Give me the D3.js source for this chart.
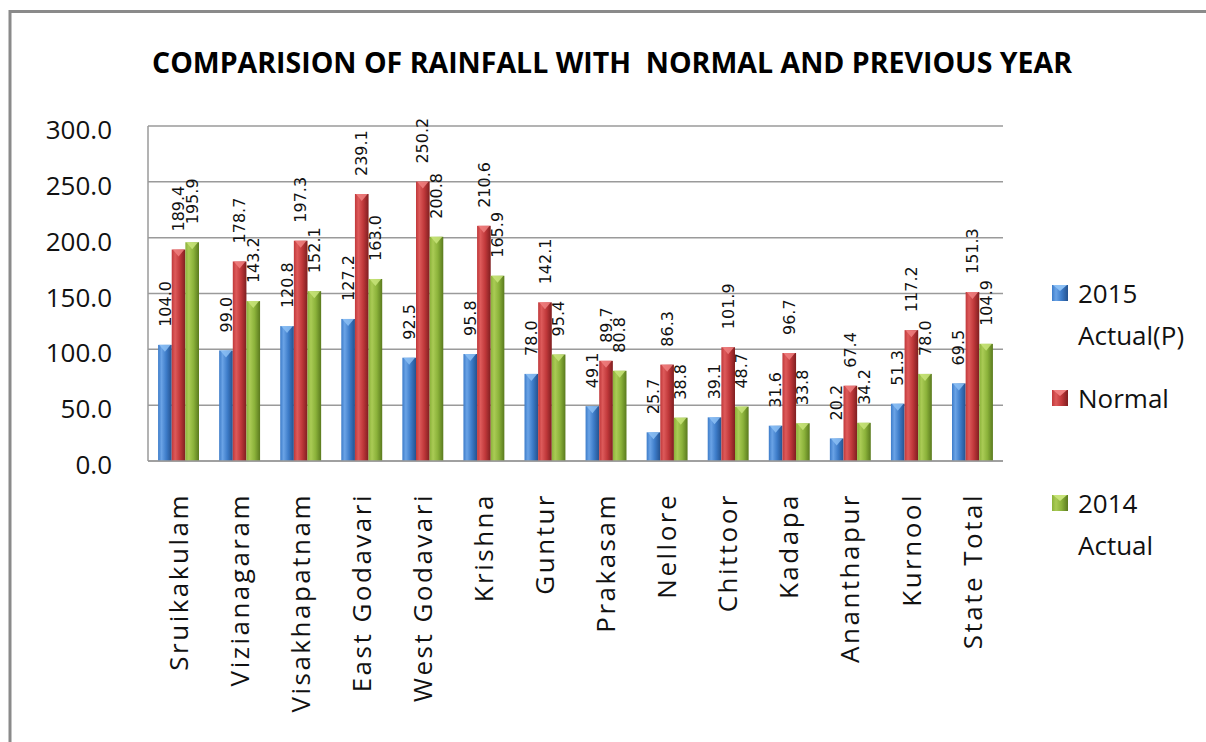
<!DOCTYPE html>
<html>
<head>
<meta charset="utf-8">
<script src="https://cdn.jsdelivr.net/npm/d3@7"></script>
<style>
  html, body { margin: 0; padding: 0; background: #fff; }
  svg { display: block; }
  text { white-space: pre; }
</style>
</head>
<body>
<svg id="chart" width="1206" height="742"></svg>
<script>
const categories = ["Sruikakulam", "Vizianagaram", "Visakhapatnam", "East Godavari", "West Godavari", "Krishna", "Guntur", "Prakasam", "Nellore", "Chittoor", "Kadapa", "Ananthapur", "Kurnool", "State Total"];
const seriesNames = ["2015 Actual(P)", "Normal", "2014 Actual"];
const actual2015 = [104.0, 99.0, 120.8, 127.2, 92.5, 95.8, 78.0, 49.1, 25.7, 39.1, 31.6, 20.2, 51.3, 69.5];
const normal = [189.4, 178.7, 197.3, 239.1, 250.2, 210.6, 142.1, 89.7, 86.3, 101.9, 96.7, 67.4, 117.2, 151.3];
const actual2014 = [195.9, 143.2, 152.1, 163.0, 200.8, 165.9, 95.4, 80.8, 38.8, 48.7, 33.8, 34.2, 78.0, 104.9];
const yTicks = [0, 50, 100, 150, 200, 250, 300];
const titleText = "COMPARISION OF RAINFALL WITH  NORMAL AND PREVIOUS YEAR";

const seriesValues = [actual2015, normal, actual2014];
const colors = [
  {light: "#6aa3e6", mid: "#3d7cc9", dark: "#24528f", tri: "#8cc0f5"},
  {light: "#dd5a5a", mid: "#c0383a", dark: "#7f1e20", tri: "#f08080"},
  {light: "#aacb55", mid: "#8bb23a", dark: "#5a7a1e", tri: "#c8e47a"}
];

const svg = d3.select("#chart");
const margin = {left: 148, right: 1003, top: 126, bottom: 461};

// frame
svg.append("path")
  .attr("d", `M10,742 L10,11.5 L1206,11.5`)
  .attr("fill", "none").attr("stroke", "#8a8a8a").attr("stroke-width", 3);

// gradients
const defs = svg.append("defs");
colors.forEach((c, i) => {
  const g = defs.append("linearGradient").attr("id", "g" + i)
    .attr("x1", "0%").attr("x2", "100%").attr("y1", "0%").attr("y2", "0%");
  g.append("stop").attr("offset", "0%").attr("stop-color", c.mid);
  g.append("stop").attr("offset", "25%").attr("stop-color", c.light);
  g.append("stop").attr("offset", "60%").attr("stop-color", c.mid);
  g.append("stop").attr("offset", "100%").attr("stop-color", c.dark);
});

const x0 = d3.scaleBand().domain(categories).range([margin.left, margin.right]).paddingInner(0.33).paddingOuter(0.165);
const x1 = d3.scaleBand().domain(seriesNames).range([0, x0.bandwidth()]);
const y = d3.scaleLinear().domain([0, 300]).range([margin.bottom, margin.top]);

// gridlines
svg.append("g").selectAll("line").data(yTicks).join("line")
  .attr("x1", margin.left).attr("x2", margin.right)
  .attr("y1", d => y(d)).attr("y2", d => y(d))
  .attr("stroke", "#9a9a9a").attr("stroke-width", 1.5);

// y axis line
svg.append("line").attr("x1", margin.left).attr("x2", margin.left)
  .attr("y1", y(300)).attr("y2", y(0)).attr("stroke", "#9a9a9a").attr("stroke-width", 1.5);

// y axis labels
const fmt = d3.format(".1f");
svg.append("g").selectAll("text").data(yTicks).join("text")
  .attr("x", 112).attr("y", d => y(d) + 3)
  .attr("text-anchor", "end").attr("dominant-baseline", "central")
  .attr("font-family", "'Open Sans'").attr("font-size", 26).attr("fill", "#111")
  .text(d => fmt(d));

// bars
const groups = svg.append("g").selectAll("g").data(categories).join("g")
  .attr("transform", d => `translate(${x0(d)},0)`);

seriesNames.forEach((s, si) => {
  const bw = x1.bandwidth();
  groups.append("rect")
    .attr("x", x1(s)).attr("width", bw)
    .attr("y", (d, i) => y(seriesValues[si][i]))
    .attr("height", (d, i) => y(0) - y(seriesValues[si][i]))
    .attr("fill", `url(#g${si})`);
  groups.append("path")
    .attr("d", (d, i) => {
      const t = y(seriesValues[si][i]);
      const xl = x1(s), xr = x1(s) + bw;
      return `M${xl + 1},${t} L${xr - 1},${t} L${xl + bw / 2},${t + 7} Z`;
    })
    .attr("fill", colors[si].tri).attr("opacity", 0.85);
  groups.append("text")
    .attr("transform", (d, i) => `translate(${x1(s) + bw / 2},${y(seriesValues[si][i]) - 18}) rotate(-90)`)
    .attr("dy", "0.35em")
    .attr("text-anchor", "start")
    .attr("font-family", "'DejaVu Sans'").attr("font-size", 16).attr("fill", "#111")
    .text((d, i) => fmt(seriesValues[si][i]));
});

// bottom axis line
svg.append("line").attr("x1", margin.left).attr("x2", margin.right)
  .attr("y1", y(0)).attr("y2", y(0)).attr("stroke", "#9a9a9a").attr("stroke-width", 1.5);

// category labels
svg.append("g").selectAll("text").data(categories).join("text")
  .attr("transform", d => `translate(${x0(d) + x0.bandwidth() / 2},493) rotate(-90)`)
  .attr("dy", "0.35em")
  .attr("text-anchor", "end")
  .attr("font-family", "'Open Sans'").attr("font-size", 26).attr("letter-spacing", 2.5).attr("fill", "#111")
  .text(d => d);

// title
svg.append("text")
  .attr("x", 152).attr("y", 73)
  .attr("font-family", "'Open Sans'").attr("font-weight", "bold").attr("font-size", 28)
  .attr("textLength", 920).attr("lengthAdjust", "spacingAndGlyphs")
  .attr("fill", "#000")
  .text(titleText);

// legend
const legendItems = [
  {lines: ["2015", "Actual(P)"], y: 293},
  {lines: ["Normal"], y: 398},
  {lines: ["2014", "Actual"], y: 503}
];
const leg = svg.append("g").selectAll("g").data(legendItems).join("g");
leg.append("rect").attr("x", 1052).attr("y", d => d.y - 8).attr("width", 16).attr("height", 16)
  .attr("fill", (d, i) => `url(#g${i})`);
leg.append("path").attr("d", d => `M1053,${d.y - 8} L1067,${d.y - 8} L1060,${d.y - 2} Z`)
  .attr("fill", (d, i) => colors[i].tri);
leg.each(function(d) {
  const g = d3.select(this);
  d.lines.forEach((ln, li) => {
    g.append("text").attr("x", 1078).attr("y", d.y + 10 + li * 42)
      .attr("font-family", "'Open Sans'").attr("font-size", 26).attr("fill", "#111")
      .text(ln);
  });
});
</script>
</body>
</html>
